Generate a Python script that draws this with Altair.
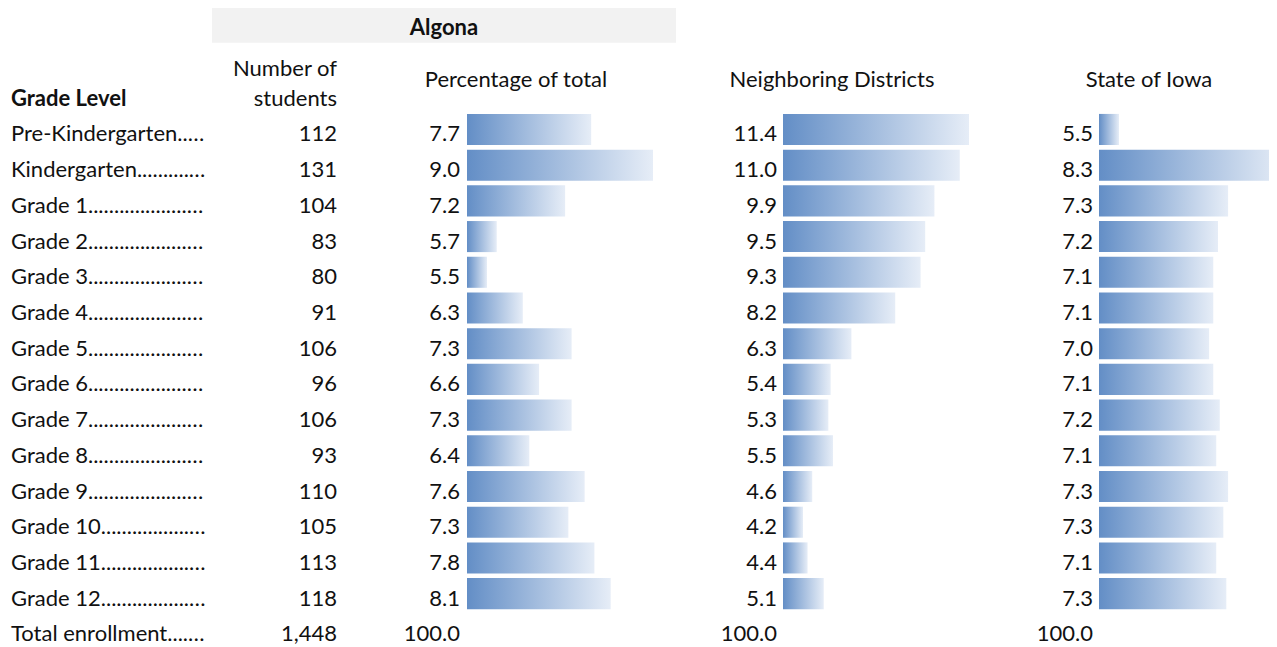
import altair as alt
import pandas as pd

# ---------------- data ----------------
grades = ["Pre-Kindergarten", "Kindergarten", "Grade 1", "Grade 2", "Grade 3",
          "Grade 4", "Grade 5", "Grade 6", "Grade 7", "Grade 8", "Grade 9",
          "Grade 10", "Grade 11", "Grade 12"]
students = [112, 131, 104, 83, 80, 91, 106, 96, 106, 93, 110, 105, 113, 118]
neighboring = [11.4, 11.0, 9.9, 9.5, 9.3, 8.2, 6.3, 5.4, 5.3, 5.5, 4.6, 4.2, 4.4, 5.1]
state_iowa = [5.5, 8.3, 7.34, 7.17, 7.09, 7.09, 7.02, 7.09, 7.20, 7.14, 7.34, 7.26, 7.14, 7.31]
total_label = "Total enrollment"
total_pct = 100.0

total_students = sum(students)
pct_total = [s / total_students * 100 for s in students]

FONT = "Lato"
FS = 22
LEADER = "." * 60

rows = grades + [total_label]

grade_df = pd.DataFrame({
    "row": grades,
    "label": [g + LEADER for g in grades],
    "count": students,
    "pct": pct_total,
    "nb": neighboring,
    "st": state_iowa,
})
total_df = pd.DataFrame({
    "row": [total_label],
    "label": [total_label + LEADER],
    "count": [total_students],
    "pct": [total_pct],
    "nb": [total_pct],
    "st": [total_pct],
})
table_df = pd.concat([grade_df, total_df], ignore_index=True)

# ---------------- scales ----------------
y_scale = alt.Scale(domain=rows, range=[103.6, 639.2], paddingInner=0.13, paddingOuter=0.065)
Y = alt.Y("row:N", scale=y_scale, axis=None)

MIN_LEN, MAX_LEN = 20, 186


def bar_domain(vals):
    lo, hi = min(vals), max(vals)
    return [lo - (hi - lo) * MIN_LEN / (MAX_LEN - MIN_LEN), hi]


gradient = alt.Gradient(
    gradient="linear",
    stops=[alt.GradientStop(color="#638ec6", offset=0),
           alt.GradientStop(color="#e6edf7", offset=1)],
    x1=0, x2=1, y1=0, y2=0,
)


def bars(field, vals, x0):
    dom = bar_domain(vals)
    return alt.Chart(grade_df).mark_bar(fill=gradient).encode(
        x=alt.X(f"{field}:Q", scale=alt.Scale(domain=dom, range=[x0, x0 + MAX_LEN],
                                              zero=False, nice=False), axis=None),
        x2=alt.datum(dom[0]),
        y=Y,
    )


def col_text(field, xpos, fmt):
    return alt.Chart(table_df).mark_text(
        align="right", baseline="alphabetic", dy=12, font=FONT, fontSize=FS, color="#111"
    ).encode(x=alt.value(xpos), y=Y, text=alt.Text(f"{field}:Q", format=fmt))


labels = alt.Chart(table_df).mark_text(
    align="left", baseline="alphabetic", dy=12, font=FONT, fontSize=FS, color="#111",
    limit=195, ellipsis=""
).encode(x=alt.value(3), y=Y, text="label:N")


def header(txt, x, y, align="center", bold=False):
    return alt.Chart(pd.DataFrame({"t": [txt]})).mark_text(
        align=align, baseline="alphabetic", font=FONT, fontSize=FS, color="#111",
        fontWeight="bold" if bold else "normal"
    ).encode(x=alt.value(x), y=alt.value(y), text="t:N")


box = alt.Chart(pd.DataFrame({"t": [1]})).mark_rect(color="#f2f2f2").encode(
    x=alt.value(204), x2=alt.value(668), y=alt.value(0), y2=alt.value(34.7)
)

chart = alt.layer(
    box,
    header("Algona", 436, 27, bold=True),
    header("Grade Level", 3, 98, align="left", bold=True),
    header("Number of", 329, 68, align="right"),
    header("students", 329, 98, align="right"),
    header("Percentage of total", 508, 79),
    header("Neighboring Districts", 824, 79),
    header("State of Iowa", 1141, 79),
    bars("pct", pct_total, 459),
    bars("nb", neighboring, 775),
    bars("st", state_iowa, 1091),
    labels,
    col_text("count", 329, ","),
    col_text("pct", 452, ".1f"),
    col_text("nb", 769, ".1f"),
    col_text("st", 1085, ".1f"),
).resolve_scale(x="independent").properties(
    width=1261, height=639, padding=0, autosize=alt.AutoSizeParams(type="none")
).configure_view(strokeWidth=0)

chart.save("out.html", embed_options={"renderer": "svg", "actions": False})
